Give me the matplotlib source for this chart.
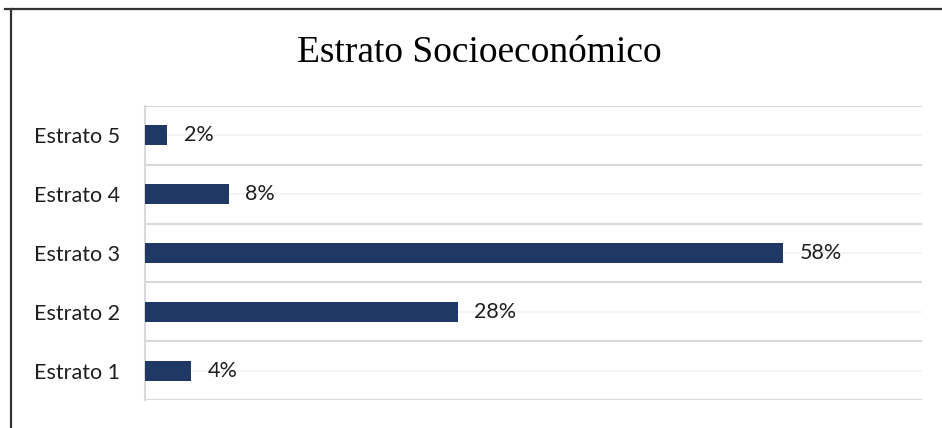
import matplotlib.pyplot as plt
from matplotlib.lines import Line2D
from matplotlib.ticker import FixedLocator

categorias = ["Estrato 1", "Estrato 2", "Estrato 3", "Estrato 4", "Estrato 5"]
porcentajes = [4.2, 28.4, 58.0, 7.6, 2.0]

W, H = 942, 428
fig = plt.figure(figsize=(W / 100, H / 100), dpi=100)
fig.patch.set_facecolor("white")

# marco del grafico (solo izquierda y arriba son visibles)
fig.add_artist(Line2D([10.5 / W, 10.5 / W], [0, 1 - 8.5 / H], transform=fig.transFigure,
                      color="#333333", lw=1.6))
fig.add_artist(Line2D([5 / W, 1], [1 - 8.5 / H, 1 - 8.5 / H], transform=fig.transFigure,
                      color="#333333", lw=1.6))

ax = fig.add_axes([145 / W, 28 / H, 777 / W, 294 / H])
ypos = list(range(len(categorias)))
ax.barh(ypos, porcentajes, height=0.34, color="#203864", zorder=3)

for y, v in zip(ypos, porcentajes):
    ax.text(v + 1.5, y, f"{v:.0f}%", va="center", ha="left",
            fontsize=15.5, family="Lato", color="#1e1e1e")

ax.set_xlim(0, 70.6)
ax.set_ylim(-0.5, len(categorias) - 0.5)
ax.set_yticks(ypos)
ax.set_yticklabels(categorias, family="Lato", fontsize=15.5, color="#1e1e1e")
ax.yaxis.set_minor_locator(FixedLocator([i - 0.5 for i in range(len(categorias) + 1)]))
ax.set_xticks([])
ax.tick_params(axis="y", which="both", length=0, pad=18)

ax.grid(axis="y", which="major", color="#f2f2f2", lw=1.2, zorder=0)
ax.grid(axis="y", which="minor", color="#d9d9d9", lw=1.5, zorder=0)

for s in ["top", "right", "bottom"]:
    ax.spines[s].set_visible(False)
ax.spines["left"].set_color("#d9d9d9")
ax.spines["left"].set_linewidth(1.5)

fig.text(479 / W, 1 - 53 / H, "Estrato Socioeconómico", ha="center", va="center",
         family="Liberation Serif", fontsize=27, color="black")

fig.savefig("out.png", dpi=100)
